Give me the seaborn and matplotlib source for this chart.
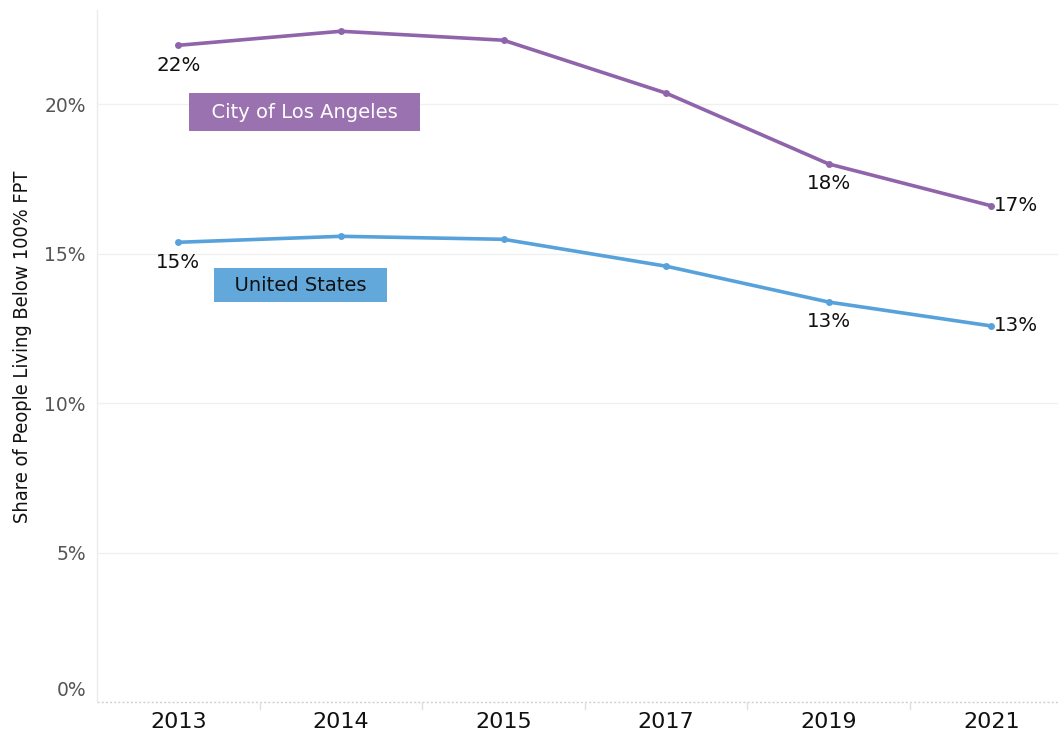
import matplotlib
import matplotlib.pyplot as plt
import matplotlib.transforms as mtransforms
import pandas as pd
import seaborn as sns

matplotlib.use("Agg")

YEARS = ["2013", "2014", "2015", "2017", "2019", "2021"]
LA_VALUES = [21.97, 22.44, 22.14, 20.37, 18.0, 16.6]
US_VALUES = [15.38, 15.58, 15.48, 14.58, 13.38, 12.58]
SERIES = ["City of Los Angeles", "United States"]
Y_TICKS = [0, 5, 10, 15, 20]

PURPLE = "#8f64ab"
BLUE = "#57a2db"
BOX_PURPLE = "#9b72b0"
BOX_BLUE = "#62a8db"

df = pd.DataFrame(
    {
        "year": YEARS * 2,
        "value": LA_VALUES + US_VALUES,
        "series": [SERIES[0]] * len(YEARS) + [SERIES[1]] * len(YEARS),
    }
)

sns.set_style("white")
plt.rcParams["font.family"] = ["DejaVu Sans"]

fig = plt.figure(figsize=(10.58, 7.33), dpi=100)
ax = fig.add_axes([0.0917, 0.0423, 0.9083, 0.944])

sns.lineplot(
    data=df,
    x="year",
    y="value",
    hue="series",
    palette=[PURPLE, BLUE],
    marker="o",
    markersize=5,
    markeredgewidth=0,
    linewidth=2.6,
    legend=False,
    ax=ax,
)

ax.set_ylim(0, 23.15)
ax.set_xlim(-0.5, 5.41)
ax.set_yticks(Y_TICKS)
ax.set_yticklabels([f"{t}%" for t in Y_TICKS], color="#555555", fontsize=13.5)
ax.tick_params(axis="y", length=0, pad=8)
ax.tick_params(axis="x", length=0, pad=7, labelsize=16, colors="#111111")

# Tableau-style: the 0% label sits a little above the baseline
zero_lab = ax.get_yticklabels()[0]
zero_lab.set_transform(zero_lab.get_transform() +
                       mtransforms.ScaledTranslation(0, 13 / 100, fig.dpi_scale_trans))

for y in Y_TICKS[1:]:
    ax.axhline(y, color="#f0f0f0", linewidth=1, zorder=0)
ax.axhline(0, color="#cfcfcf", linewidth=1, linestyle=(0, (1.5, 1.5)),
           zorder=0, clip_on=False)

for side in ["top", "right", "bottom"]:
    ax.spines[side].set_visible(False)
ax.spines["left"].set_color("#ebebeb")
ax.spines["left"].set_linewidth(1)

# small separators between categories at the bottom
for i in range(len(YEARS) - 1):
    ax.plot([i + 0.5, i + 0.5], [-0.25, 0], color="#e0e0e0", linewidth=1,
            clip_on=False)

ax.set_xlabel("")
ax.set_ylabel("Share of People Living Below 100% FPT", fontsize=14.3,
              color="#111111", fontstretch="condensed")
ax.yaxis.set_label_coords(-0.068, 0.513)

label_kw = dict(fontsize=14.3, color="#111111")
for idx in (0, 4):
    ax.annotate(f"{LA_VALUES[idx]:.0f}%", (idx, LA_VALUES[idx]),
                xytext=(0, -7.5), textcoords="offset points",
                ha="center", va="top", **label_kw)
    ax.annotate(f"{US_VALUES[idx]:.0f}%", (idx, US_VALUES[idx]),
                xytext=(0, -7.5), textcoords="offset points",
                ha="center", va="top", **label_kw)
ax.annotate(f"{round(LA_VALUES[5])}%", (5, LA_VALUES[5]), xytext=(2, 0),
            textcoords="offset points", ha="left", va="center", **label_kw)
ax.annotate(f"{round(US_VALUES[5])}%", (5, US_VALUES[5]), xytext=(2, 0),
            textcoords="offset points", ha="left", va="center", **label_kw)

ax.text(0.775, 19.73, f"  {SERIES[0]}  ", ha="center", va="center", fontsize=14,
        color="white",
        bbox=dict(boxstyle="square,pad=0.5", facecolor=BOX_PURPLE,
                  edgecolor="none"))
ax.text(0.75, 13.95, f"  {SERIES[1]}  ", ha="center", va="center", fontsize=14,
        color="#111111",
        bbox=dict(boxstyle="square,pad=0.4", facecolor=BOX_BLUE,
                  edgecolor="none"))

fig.savefig("out.png", dpi=100)
